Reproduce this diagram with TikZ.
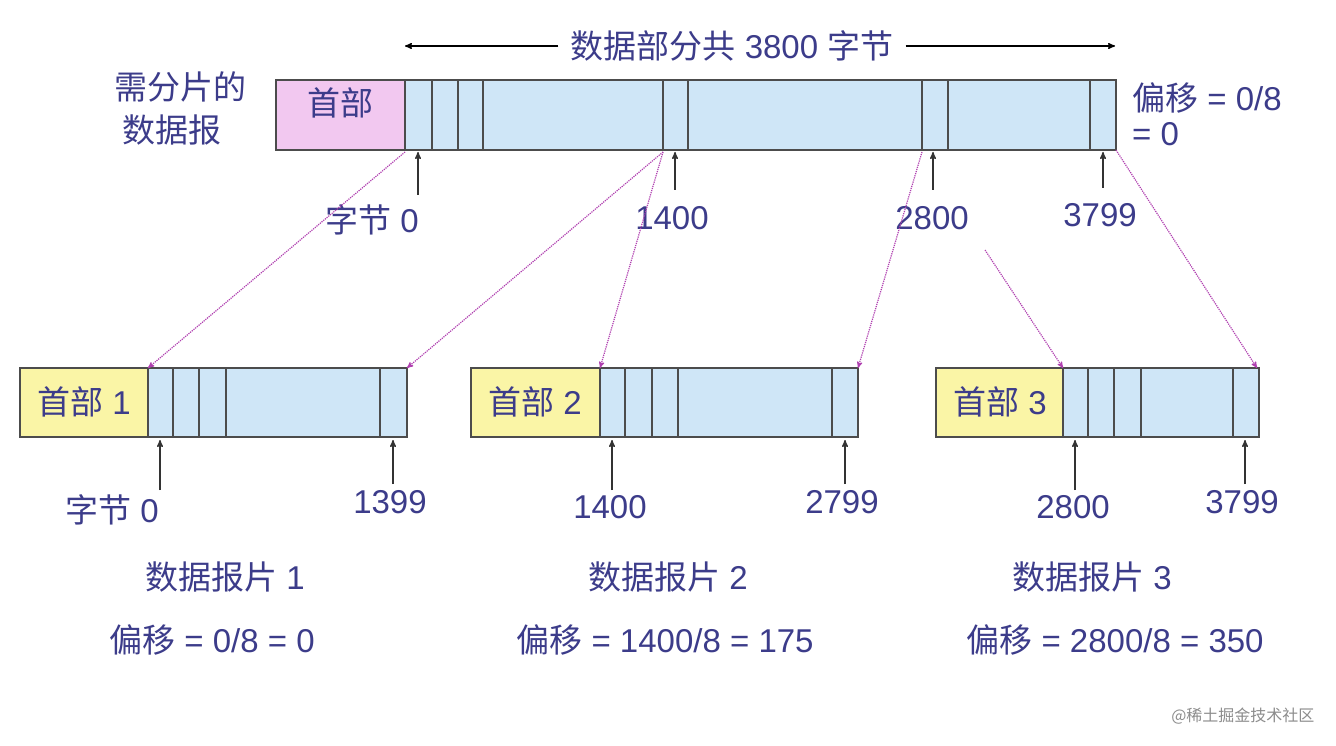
\documentclass[tikz,border=0pt]{standalone}
\usepackage{fontspec}
\setmainfont{Liberation Sans}
\newfontfamily\cjk{Noto Sans CJK SC}
\usetikzlibrary{arrows,calc,positioning}
\definecolor{txt}{HTML}{3C3C8A}
\definecolor{body}{HTML}{CFE6F7}
\definecolor{head}{HTML}{F2C8F0}
\definecolor{headb}{HTML}{FAF5A6}
\definecolor{movc}{HTML}{B040B0}
\begin{document}
\begin{tikzpicture}
[
                     x =  1pt,
                     y = -1pt,
                  >= stealth',
             lab/.style = { draw=none, fill=none, text=txt, font=\fontsize{33}{35}\selectfont, inner sep=0pt },
             hdr/.style = { draw=black!70, fill=head, line width=1.2pt },
             frg/.style = { draw=black!70, fill=headb, line width=1.2pt },
             dat/.style = { draw=black!70, fill=body, line width=1.2pt },
             pin/.style = { ->, black!80, line width=1.4pt },
             mov/.style = { ->, movc, densely dotted, line width=1.2pt }
]
    \useasboundingbox[fill=white] (0,0) rectangle (1336,746);

    % datagram to be fragmented
    \draw[dat] (276,80) rectangle (1116,150);
    \draw[hdr] (276,80) rectangle (405,150);
    \foreach \x in {432,458,483,663,688,922,948,1090} \draw[black!70, line width=1.2pt] (\x,80) -- (\x,150);
    \node[lab] (hd0) at (340,103) {\cjk 首部};
    \node[lab] (dg1) at (180,87) {\cjk 需分片的};
    \node[lab] (dg2) at (172,130) {\cjk 数据报};
    \node[lab, anchor=west] (off0a) at (1132,98) {{\cjk 偏移} = 0/8};
    \node[lab, anchor=west] (off0b) at (1132,134) {= 0};

    % length arrow
    \node[lab] (len) at (732,46) {{\cjk 数据部分共} 3800 {\cjk 字节}};
    \coordinate (lenl) at (405,46);
    \coordinate (lenr) at (1115,46);
    \draw[->, black, line width=1.4pt] (len.west) ++(-12,0) -- (lenl);
    \draw[->, black, line width=1.4pt] (len.east) ++(12,0) -- (lenr);

    % byte positions
    \node[lab] (b0)    at (372,220) {{\cjk 字节} 0};
    \node[lab] (b1400) at (672,218) {1400};
    \node[lab] (b2800) at (932,218) {2800};
    \node[lab] (b3799) at (1100,215) {3799};
    \coordinate (p0)    at (418,152);
    \coordinate (p1400) at (675,152);
    \coordinate (p2800) at (933,152);
    \coordinate (p3799) at (1103,152);
    \draw[pin] (418,195) -- (p0);
    \draw[pin] (675,190) -- (p1400);
    \draw[pin] (933,190) -- (p2800);
    \draw[pin] (1103,188) -- (p3799);

    % fragment 1
    \draw[dat] (20,368) rectangle (407,437);
    \draw[frg] (20,368) rectangle (148,437);
    \foreach \x in {173,199,226,380} \draw[black!70, line width=1.2pt] (\x,368) -- (\x,437);
    \node[lab] (hd1) at (84,402) {{\cjk 首部} 1};
    % fragment 2
    \draw[dat] (471,368) rectangle (858,437);
    \draw[frg] (471,368) rectangle (600,437);
    \foreach \x in {625,652,678,832} \draw[black!70, line width=1.2pt] (\x,368) -- (\x,437);
    \node[lab] (hd2) at (535,402) {{\cjk 首部} 2};
    % fragment 3
    \draw[dat] (936,368) rectangle (1259,437);
    \draw[frg] (936,368) rectangle (1063,437);
    \foreach \x in {1088,1114,1141,1233} \draw[black!70, line width=1.2pt] (\x,368) -- (\x,437);
    \node[lab] (hd3) at (1000,402) {{\cjk 首部} 3};

    % fragment byte positions
    \node[lab] (f1a) at (112,510) {{\cjk 字节} 0};
    \node[lab] (f1b) at (390,502) {1399};
    \node[lab] (f2a) at (610,507) {1400};
    \node[lab] (f2b) at (842,502) {2799};
    \node[lab] (f3a) at (1073,507) {2800};
    \node[lab] (f3b) at (1242,502) {3799};
    \draw[pin] (160,490) -- (160,440);
    \draw[pin] (393,484) -- (393,440);
    \draw[pin] (612,490) -- (612,440);
    \draw[pin] (845,484) -- (845,440);
    \draw[pin] (1075,490) -- (1075,440);
    \draw[pin] (1245,484) -- (1245,440);

    % names and offsets
    \node[lab] (n1) at (225,577) {{\cjk 数据报片} 1};
    \node[lab] (n2) at (668,577) {{\cjk 数据报片} 2};
    \node[lab] (n3) at (1092,577) {{\cjk 数据报片} 3};
    \node[lab] (o1) at (212,640) {{\cjk 偏移} = 0/8 = 0};
    \node[lab] (o2) at (665,640) {{\cjk 偏移} = 1400/8 = 175};
    \node[lab] (o3) at (1115,640) {{\cjk 偏移} = 2800/8 = 350};

    % copied ranges
    \draw[mov] (405,152) -- (148,368);
    \draw[mov] (663,152) -- (407,368);
    \draw[mov] (663,152) -- (600,368);
    \draw[mov] (922,152) -- (858,368);
    \draw[mov] (985,250) -- (1063,368);
    \draw[mov] (1116,150) -- (1257,368);

    \node[draw=none, text=black!45, font=\cjk\fontsize{16}{18}\selectfont, anchor=east] (wm) at (1318,716) {@稀土掘金技术社区};
\end{tikzpicture}
\end{document}
